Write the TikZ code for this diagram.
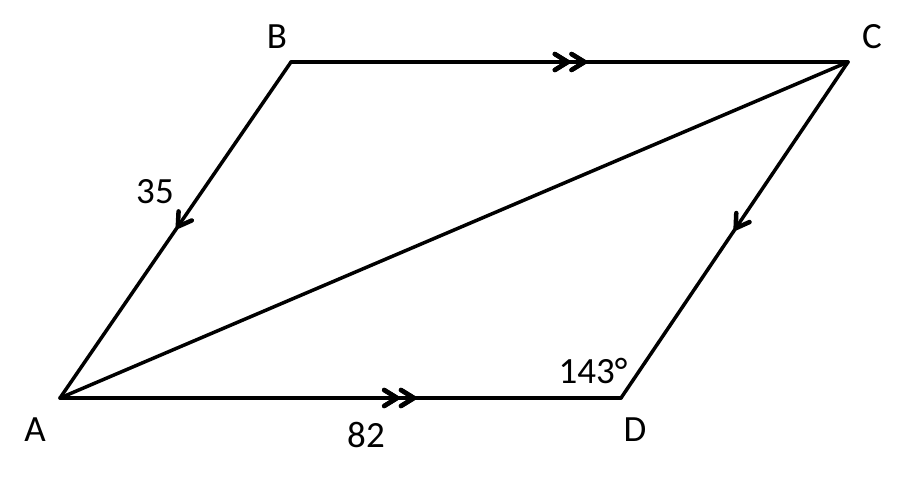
\documentclass[tikz,border=0pt]{standalone}
\usepackage{fontspec}
\setmainfont{Carlito}
\usetikzlibrary{decorations.markings}
\tikzset{
  edge/.style={line width=3.5pt, line cap=round, line join=miter},
  chev/.style={decoration={markings, mark=at position #1 with {\draw[line width=4.5pt, line cap=round, line join=round] (-13pt,-8pt) -- (0,0) -- (-13pt,8pt);}}, postaction={decorate}},
  lbl/.style={font=\fontsize{37}{42}\selectfont, inner sep=0pt}
}
\begin{document}
\begin{tikzpicture}[x=1pt,y=-1pt]
\useasboundingbox (0,0) rectangle (906,480);
\coordinate (A) at (60,398);
\coordinate (B) at (291,62);
\coordinate (C) at (848,62);
\coordinate (D) at (621,398);
\draw[edge] (A) -- (C);
\draw[edge, chev=0.497, chev=0.527] (B) -- (C);
\draw[edge, chev=0.601, chev=0.631] (A) -- (D);
\draw[edge, chev=0.49] (B) -- (A);
\draw[edge, chev=0.495] (C) -- (D);
\node[lbl] (la) at (35,430) {A};
\node[lbl] (lb) at (277,37) {B};
\node[lbl] (lc) at (872,37) {C};
\node[lbl] (ld) at (635,430) {D};
\node[lbl] (l35) at (155,192) {35};
\node[lbl] (l82) at (366,435) {82};
\node[lbl] (l143) at (593,371) {143°};
\end{tikzpicture}
\end{document}
